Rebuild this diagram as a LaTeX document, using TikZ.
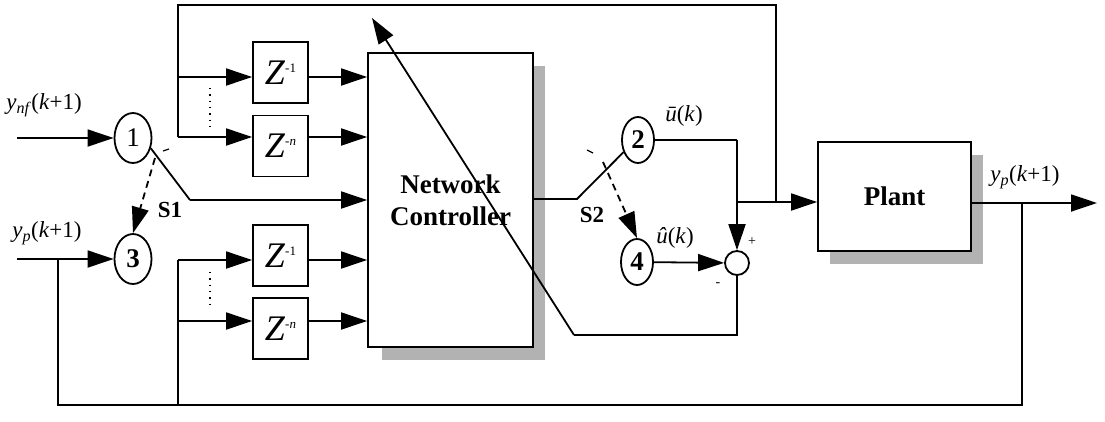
\documentclass[tikz,border=0pt]{standalone}
\usepackage{fontspec}
\setmainfont{Liberation Serif}
\usetikzlibrary{arrows.meta,shapes.geometric}
\newcommand\zpow[1]{\textit{Z}\raisebox{12pt}{\fontsize{13}{13}\selectfont #1}}
\begin{document}
\begin{tikzpicture}[x=1pt,y=-1pt,
  line width=1.8pt,
  arr/.style={-{Triangle[length=26pt,width=17pt]}},
  blk/.style={draw,fill=white,inner sep=0pt},
  zbox/.style={blk,minimum width=55pt,minimum height=61pt,font=\fontsize{36}{36}\selectfont},
  bigc/.style={draw,ellipse,minimum width=37pt,minimum height=50pt,inner sep=0pt,font=\fontsize{27}{27}\selectfont},
  smc/.style={draw,ellipse,minimum width=32pt,minimum height=46pt,inner sep=0pt,font=\bfseries\fontsize{27}{27}\selectfont},
  lbl/.style={inner sep=0pt,font=\fontsize{23}{23}\selectfont},
  sw/.style={inner sep=0pt,font=\bfseries\fontsize{23}{23}\selectfont},
  sgn/.style={inner sep=0pt,font=\fontsize{14}{14}\selectfont},
  shadow/.style={fill=black!30},
  dsh/.style={dash pattern=on 7pt off 5pt},
  dots/.style={line width=1.3pt,dash pattern=on 1.3pt off 5pt}
]
\useasboundingbox (0,0) rectangle (1105,421);
% shadows
\fill[shadow] (382,66) rectangle (545,360);
\fill[shadow] (830,155) rectangle (983,264);
% blocks
\node[blk,minimum width=165pt,minimum height=294pt,align=center,font=\bfseries\fontsize{27}{32}\selectfont] (ctrl) at (450.5,200) {Network\\Controller};
\node[blk,minimum width=153pt,minimum height=109pt,font=\bfseries\fontsize{27}{27}\selectfont] (plant) at (894.5,196.5) {Plant};
\node[zbox] (zu1) at (280.5,72.5) {\zpow{-1}};
\node[zbox] (zun) at (280.5,146) {\zpow{-\textit{n}}};
\node[zbox] (zl1) at (280.5,255.5) {\zpow{-1}};
\node[zbox] (zln) at (280.5,328.5) {\zpow{-\textit{n}}};
% circles
\node[bigc] (c1) at (133,138) {1};
\node[bigc,font=\bfseries\fontsize{27}{27}\selectfont] (c3) at (133,259) {3};
\node[smc] (c2) at (638,140) {2};
\node[smc] (c4) at (637,262) {4};
\node[draw,circle,minimum size=24pt,inner sep=0pt] (sum) at (737,263) {};
% coordinates
\coordinate (in1) at (17,138);
\coordinate (in3) at (17,259);
\coordinate (ib) at (58,259);
\coordinate (bl) at (58,405);
\coordinate (lb) at (178,405);
\coordinate (lb1) at (178,260);
\coordinate (lbn) at (178,321);
\coordinate (ub1) at (178,77);
\coordinate (ub2) at (178,137);
\coordinate (tl) at (178,5);
\coordinate (tr) at (776,5);
\coordinate (pj) at (776,202);
\coordinate (sj) at (737,202);
\coordinate (c2r) at (737,140);
\coordinate (ob) at (1022,203);
\coordinate (br) at (1022,405);
\coordinate (out) at (1097,203);
\coordinate (s1) at (190,200);
\coordinate (d1) at (155,158);
\coordinate (s2) at (577,199);
\coordinate (d2) at (603,162);
\coordinate (sb) at (737,335);
\coordinate (db) at (574,335);
\coordinate (dt) at (372,18);
% inputs
\draw[arr] (in1) -- (c1);
\draw[arr] (in3) -- (c3);
% switch S1
\draw (c1.-30) -- (s1);
\draw[arr] (s1) -- (s1 -| ctrl.west);
\draw[line width=1.2pt] (163,151) -- (169,149);
\draw[arr,dsh] (d1) -- (c3.north);
% upper delay branch
\draw (ub2) -- (tl) -- (tr) -- (pj);
\draw[arr] (ub1) -- (ub1 -| zu1.west);
\draw[arr] (ub2) -- (ub2 -| zun.west);
\draw[arr] (zu1.east |- ub1) -- (ub1 -| ctrl.west);
\draw[arr] (zun.east |- ub2) -- (ub2 -| ctrl.west);
\draw[dots] (210,88) -- (210,126);
% lower delay branch
\draw (lb) -- (lb1);
\draw[arr] (lb1) -- (lb1 -| zl1.west);
\draw[arr] (lbn) -- (lbn -| zln.west);
\draw[arr] (zl1.east |- lb1) -- (lb1 -| ctrl.west);
\draw[arr] (zln.east |- lbn) -- (lbn -| ctrl.west);
\draw[dots] (210,272) -- (210,309);
% feedback of plant output
\draw (ob) -- (br) -- (bl) -- (ib);
% switch S2
\draw (ctrl.east |- s2) -- (s2) -- (c2.-140);
\draw[line width=1.2pt] (587,150) -- (593,153);
\draw[arr,dsh] (d2) -- (c4.north);
% summation
\draw (c2.east |- c2r) -- (c2r);
\draw[arr] (c2r) -- (sum.north);
\draw[arr] (c4) -- (sum);
\draw (sum.south) -- (sb) -- (db);
\draw[arr] (db) -- (dt);
% plant
\draw[arr] (sj) -- (sj -| plant.west);
\draw[arr] (plant.east |- ob) -- (out);
% labels
\node[lbl] (lynf) at (44,105) {\textit{y}\textsubscript{\textit{nf}}(\textit{k}+1)};
\node[lbl] (lypl) at (47,233) {\textit{y}\textsubscript{\textit{p}}(\textit{k}+1)};
\node[lbl] (lypr) at (1025,177) {\textit{y}\textsubscript{\textit{p}}(\textit{k}+1)};
\node[lbl] (lub) at (684,116) {\textit{ū}(\textit{k})};
\node[lbl] (luh) at (675,238) {\textit{û}(\textit{k})};
\node[sw] (ls1) at (170,210) {S1};
\node[sw] (ls2) at (592,215) {S2};
\node[sgn] (lp) at (752,242) {+};
\node[sgn] (lm) at (718,285) {-};
\end{tikzpicture}
\end{document}
